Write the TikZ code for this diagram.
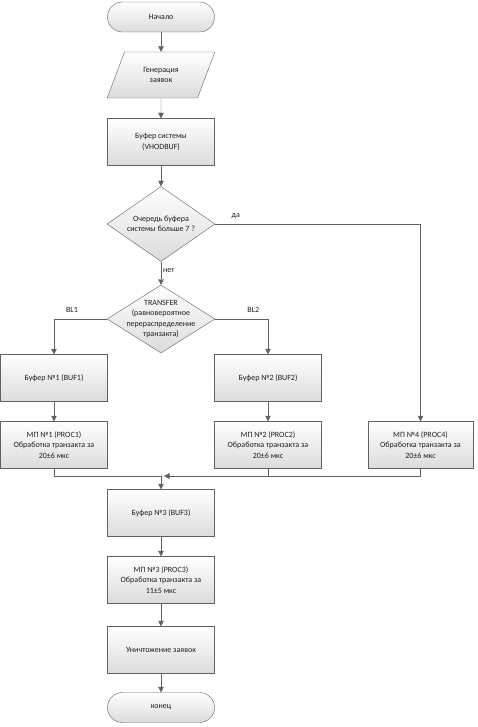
\documentclass[tikz,border=0pt]{standalone}
\usepackage{fontspec}
\setmainfont{Carlito}
\usetikzlibrary{shapes.geometric,arrows.meta}

\definecolor{linegray}{gray}{0.38}
\definecolor{boxgray}{gray}{0.86}
\definecolor{txtgray}{gray}{0.12}

\tikzset{
    box/.style={draw=linegray, top color=white, bottom color=boxgray,
        minimum width=107pt, minimum height=47pt, inner sep=1pt,
        align=center, text=txtgray, font=\fontsize{8}{10.5}\selectfont},
    term/.style={box, rounded corners=15pt, minimum height=30pt},
    gen/.style={box, trapezium, trapezium left angle=63.4, trapezium right angle=116.6,
        trapezium stretches=true, minimum width=108pt, minimum height=46pt},
    decision/.style={box, diamond, inner sep=0pt, minimum width=108pt},
    txt/.style={align=center, text=txtgray, inner sep=0pt, font=\fontsize{8}{10.5}\selectfont},
    arr/.style={draw=linegray, -{Triangle[length=5.5pt,width=5.5pt]}},
    con/.style={draw=linegray}
}

\begin{document}
\begin{tikzpicture}[x=1pt,y=-1pt]
\useasboundingbox (0,0) rectangle (477,727);

% ===== Main column =====
\node[term] (start) at (161,17) {Начало};
\node[gen] (gen) at (161,75) {Генерация\\заявок};
\node[box] (sysbuf) at (161,142) {Буфер системы\\(VHODBUF)};

% ===== Decisions =====
\node[decision, minimum height=75pt] (q1) at (161,224) {};
\node[txt] (q1t) at (q1) {Очередь буфера\\системы больше 7 ?};
\node[decision, minimum height=68pt] (tr) at (161,319) {};
\node[txt] (trt) at (tr) {TRANSFER\\(равновероятное\\перераспределение\\транзакта)};

% ===== Branches =====
\node[box] (buf1) at (54,378) {Буфер №1 (BUF1)};
\node[box] (proc1) at (54,445) {МП №1 (PROC1)\\Обработка транзакта за\\20±6 мкс};
\node[box] (buf2) at (268,378) {Буфер №2 (BUF2)};
\node[box] (proc2) at (268,445) {МП №2 (PROC2)\\Обработка транзакта за\\20±6 мкс};
\node[box, minimum width=105pt] (proc4) at (420.5,445) {МП №4 (PROC4)\\Обработка транзакта за\\20±6 мкс};

% ===== Bottom column =====
\coordinate (jn) at (161,476);
\node[box] (buf3) at (161,513) {Буфер №3 (BUF3)};
\node[box] (proc3) at (161,580) {МП №3 (PROC3)\\Обработка транзакта за\\11±5 мкс};
\node[box] (kill) at (161,650) {Уничтожение заявок};
\node[term] (stop) at (161,707.5) {конец};

% ===== Connectors =====
\draw[arr] (start) -- (gen);
\draw[arr] (gen) -- (sysbuf);
\draw[arr] (sysbuf) -- (q1);
\draw[arr] (q1.east) -| node[txt, pos=0.05, above=5pt] (yes) {да} (proc4.north);
\draw[arr] (q1.south) -- node[txt, pos=0.4, right=2pt] (no) {нет} (tr.north);
\draw[arr] (tr.west) -| node[txt, pos=0.33, above=6pt] (bl1) {BL1} (buf1.north);
\draw[arr] (tr.east) -| node[txt, pos=0.36, above=6pt] (bl2) {BL2} (buf2.north);
\draw[arr] (buf1) -- (proc1);
\draw[arr] (buf2) -- (proc2);

% ===== Join =====
\draw[con] (proc1.south) |- (jn);
\draw[arr, shorten >=3pt] (proc4.south) |- (jn);
\draw[con] (proc2.south) -- (proc2.south |- jn);
\draw[arr] (jn) -- (buf3);
\draw[arr] (buf3) -- (proc3);
\draw[arr] (proc3) -- (kill);
\draw[arr] (kill) -- (stop);

\end{tikzpicture}
\end{document}
